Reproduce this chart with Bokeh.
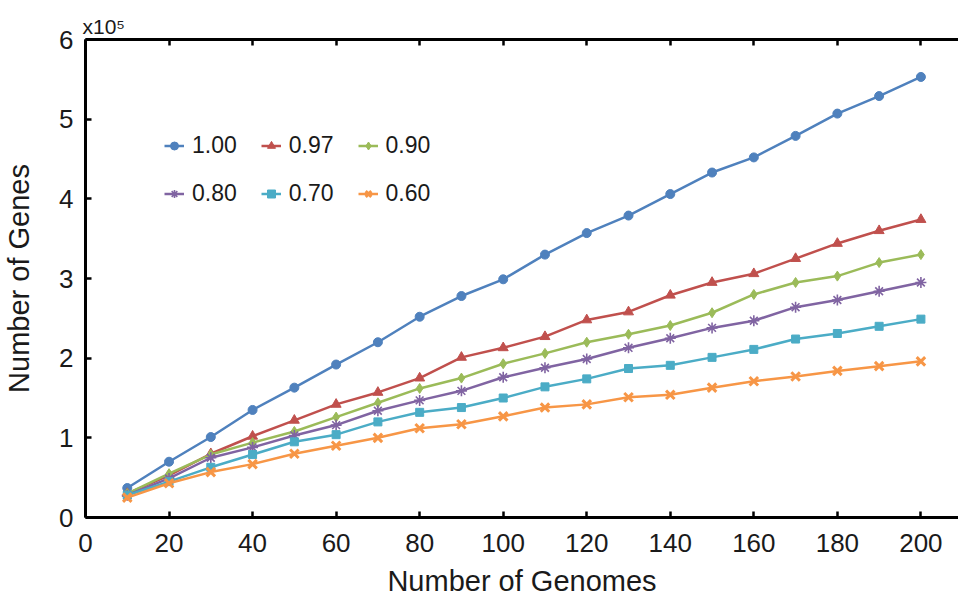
from bokeh.plotting import figure
from bokeh.models import (LinearAxis, FixedTicker, Legend, LegendItem, Title,
                          Range1d, CustomJSTickFormatter)
from bokeh.embed import file_html
from bokeh.resources import INLINE

# Number of genomes sampled
genomes = [10, 20, 30, 40, 50, 60, 70, 80, 90, 100,
           110, 120, 130, 140, 150, 160, 170, 180, 190, 200]

# Pan-genome size (number of genes, in units of 10^5) per identity threshold
genes_100 = [0.37, 0.70, 1.01, 1.35, 1.63, 1.92, 2.20, 2.52, 2.78, 2.99,
             3.30, 3.57, 3.79, 4.06, 4.33, 4.52, 4.79, 5.07, 5.29, 5.53]
genes_097 = [0.30, 0.53, 0.80, 1.02, 1.22, 1.42, 1.57, 1.75, 2.01, 2.13,
             2.27, 2.48, 2.58, 2.79, 2.95, 3.06, 3.25, 3.44, 3.60, 3.74]
genes_090 = [0.30, 0.55, 0.79, 0.94, 1.08, 1.26, 1.44, 1.62, 1.75, 1.93,
             2.06, 2.20, 2.30, 2.41, 2.57, 2.80, 2.95, 3.03, 3.20, 3.30]
genes_080 = [0.28, 0.49, 0.75, 0.88, 1.03, 1.16, 1.34, 1.47, 1.59, 1.76,
             1.88, 1.99, 2.13, 2.25, 2.38, 2.47, 2.64, 2.73, 2.84, 2.95]
genes_070 = [0.28, 0.45, 0.63, 0.79, 0.95, 1.04, 1.20, 1.32, 1.38, 1.50,
             1.64, 1.74, 1.87, 1.91, 2.01, 2.11, 2.24, 2.31, 2.40, 2.49]
genes_060 = [0.25, 0.43, 0.57, 0.67, 0.80, 0.90, 1.00, 1.12, 1.17, 1.27,
             1.38, 1.42, 1.51, 1.54, 1.63, 1.71, 1.77, 1.84, 1.90, 1.96]

labels = ["1.00", "0.97", "0.90", "0.80", "0.70", "0.60"]
series = [genes_100, genes_097, genes_090, genes_080, genes_070, genes_060]
colors = ["#4F81BD", "#C0504D", "#9BBB59", "#8064A2", "#4BACC6", "#F79646"]
markers = ["circle", "triangle", "diamond", "asterisk", "square", "x"]
sizes = [9, 10, 10, 11, 8, 12]
marker_widths = [1, 1, 1, 1.6, 1, 3]

x_ticks = [0, 20, 40, 60, 80, 100, 120, 140, 160, 180, 200]
y_ticks = [0, 1, 2, 3, 4, 5, 6]

FONT = "Liberation Sans"
TEXT = "#1a1a1a"

p = figure(width=958, height=599, output_backend="svg", toolbar_location=None,
           x_range=Range1d(0, 209), y_range=Range1d(0, 6),
           x_axis_type=None, y_axis_type=None,
           min_border_left=84, min_border_right=0,
           min_border_top=39, min_border_bottom=80)
p.outline_line_color = None
p.grid.visible = False
p.background_fill_color = "white"
p.border_fill_color = "white"


def style_axis(ax, show_labels=True):
    ax.axis_line_width = 3
    ax.axis_line_color = "black"
    ax.major_tick_in = 6
    ax.major_tick_out = 0
    ax.major_tick_line_width = 2.5
    ax.major_tick_line_color = "black"
    ax.minor_tick_line_color = None
    ax.major_label_text_font = FONT
    ax.major_label_text_color = TEXT
    ax.axis_label_text_font = FONT
    ax.axis_label_text_font_style = "normal"
    ax.axis_label_text_color = TEXT
    if not show_labels:
        ax.major_label_text_font_size = "0px"
        ax.major_label_text_color = None
        ax.major_label_standoff = 0


xaxis = LinearAxis(ticker=FixedTicker(ticks=x_ticks), axis_label="Number of Genomes")
style_axis(xaxis)
xaxis.major_label_text_font_size = "26px"
xaxis.axis_label_text_font_size = "29px"
xaxis.major_label_standoff = 16
xaxis.axis_label_standoff = 10
p.add_layout(xaxis, "below")

yaxis = LinearAxis(ticker=FixedTicker(ticks=y_ticks), axis_label="Number of Genes",
                   formatter=CustomJSTickFormatter(code="return tick.toFixed(0);"))
style_axis(yaxis)
yaxis.major_label_text_font_size = "26px"
yaxis.axis_label_text_font_size = "29px"
yaxis.major_label_standoff = 12
yaxis.axis_label_standoff = 21
p.add_layout(yaxis, "left")

top_axis = LinearAxis(ticker=FixedTicker(ticks=x_ticks))
style_axis(top_axis, show_labels=False)
p.add_layout(top_axis, "above")

# Axis multiplier above the y axis
p.add_layout(Title(text="x10\u2075", align="left", offset=-3, standoff=3,
                   text_font=FONT, text_font_size="21px", text_color=TEXT,
                   text_font_style="normal"), "above")

items = []
for lab, ys, c, m, s, w in zip(labels, series, colors, markers, sizes, marker_widths):
    ln = p.line(genomes, ys, line_color=c, line_width=2.5)
    sc = p.scatter(genomes, ys, marker=m, size=s, fill_color=c, line_color=c,
                   line_width=w)
    items.append(LegendItem(label=lab, renderers=[ln, sc]))


def make_legend(its, loc):
    return Legend(items=its, location=loc, orientation="horizontal",
                  border_line_color=None, background_fill_alpha=0,
                  padding=0, margin=0, spacing=24,
                  glyph_width=20, glyph_height=27, label_height=27,
                  label_standoff=8, label_text_font=FONT,
                  label_text_font_size="23px", label_text_color=TEXT)


p.add_layout(make_legend(items[:3], (79, 358)))
p.add_layout(make_legend(items[3:], (79, 310)))

open("out.html", "w").write(file_html(p, INLINE))
